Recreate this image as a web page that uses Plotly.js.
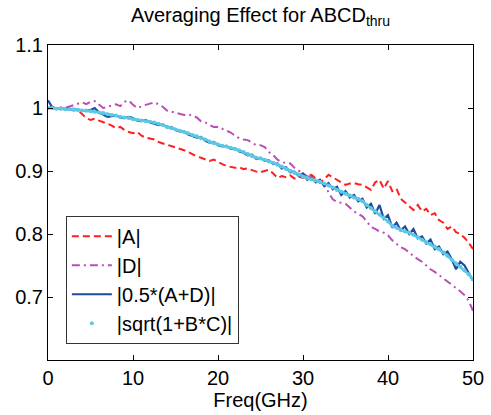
<!DOCTYPE html>
<html>
<head>
<meta charset="utf-8">
<script src="https://cdn.plot.ly/plotly-3.0.1.min.js"></script>
<style>html,body{margin:0;padding:0;background:#fff;}#chart{width:491px;height:415px;}</style>
</head>
<body>
<div id="chart"></div>
<script>
// Frequency grid (GHz)
const freq = [0,0.5,1,1.5,2,2.5,3,3.5,4,4.5,5,5.5,6,6.5,7,7.5,8,8.5,9,9.5,
  10,10.5,11,11.5,12,12.5,13,13.5,14,14.5,15,15.5,16,16.5,17,17.5,18,18.5,19,19.5,
  20,20.5,21,21.5,22,22.5,23,23.5,24,24.5,25,25.5,26,26.5,27,27.5,28,28.5,29,29.5,
  30,30.5,31,31.5,32,32.5,33,33.5,34,34.5,35,35.5,36,36.5,37,37.5,38,38.5,39,39.5,
  40,40.5,41,41.5,42,42.5,43,43.5,44,44.5,45,45.5,46,46.5,47,47.5,48,48.5,49,49.5,50];

// |A|
const magA = [1.000,1.001,0.999,0.998,0.999,0.997,0.996,0.997,0.990,0.984,
  0.981,0.983,0.980,0.978,0.975,0.972,0.968,0.970,0.965,0.962,
  0.960,0.962,0.956,0.953,0.952,0.950,0.946,0.944,0.941,0.939,
  0.937,0.935,0.933,0.930,0.926,0.923,0.921,0.918,0.916,0.918,
  0.914,0.911,0.908,0.907,0.905,0.906,0.903,0.904,0.901,0.899,
  0.898,0.900,0.902,0.896,0.889,0.892,0.890,0.893,0.888,0.891,
  0.889,0.892,0.894,0.888,0.881,0.887,0.894,0.890,0.886,0.882,
  0.878,0.880,0.881,0.879,0.878,0.874,0.870,0.882,0.886,0.872,
  0.884,0.868,0.872,0.856,0.850,0.845,0.838,0.846,0.836,0.840,
  0.830,0.833,0.822,0.818,0.808,0.812,0.803,0.800,0.794,0.786,0.776];

// |D|
const magD = [1.000,1.001,1.000,1.001,1.000,1.002,1.004,1.007,1.009,1.006,
  1.010,1.011,1.006,1.000,1.002,1.004,1.006,1.003,1.010,1.012,
  1.005,1.000,1.003,1.005,1.007,1.009,1.006,1.002,0.996,0.994,
  0.992,0.990,0.989,0.990,0.988,0.985,0.979,0.977,0.973,0.970,
  0.970,0.967,0.965,0.961,0.956,0.952,0.950,0.949,0.945,0.941,
  0.941,0.938,0.930,0.925,0.918,0.914,0.913,0.912,0.905,0.900,
  0.896,0.892,0.889,0.886,0.883,0.878,0.866,0.855,0.851,0.850,
  0.848,0.842,0.836,0.832,0.828,0.820,0.811,0.808,0.804,0.802,
  0.798,0.790,0.785,0.779,0.776,0.770,0.765,0.760,0.756,0.750,
  0.744,0.740,0.735,0.730,0.725,0.720,0.715,0.709,0.703,0.694,0.678];

// |0.5*(A+D)|
const magAvg = [1.012,1.001,0.999,1.000,0.998,0.999,0.997,0.998,0.996,0.995,
  0.997,1.000,0.993,0.989,0.986,0.987,0.988,0.985,0.984,0.986,
  0.984,0.980,0.979,0.981,0.977,0.975,0.973,0.974,0.969,0.970,
  0.965,0.963,0.963,0.958,0.956,0.953,0.954,0.948,0.945,0.946,
  0.941,0.939,0.940,0.935,0.936,0.931,0.929,0.925,0.926,0.919,
  0.921,0.916,0.917,0.911,0.912,0.904,0.906,0.898,0.899,0.892,
  0.896,0.886,0.890,0.882,0.886,0.876,0.881,0.871,0.875,0.862,
  0.868,0.858,0.862,0.852,0.856,0.842,0.848,0.832,0.846,0.824,
  0.830,0.810,0.818,0.806,0.812,0.800,0.808,0.793,0.796,0.785,
  0.791,0.776,0.780,0.768,0.772,0.760,0.744,0.756,0.750,0.738,0.726];

// |sqrt(1+B*C)|
const magSqrt = [1.000,1.000,0.999,0.999,0.998,0.998,0.998,0.997,0.996,0.996,
  0.995,0.994,0.993,0.992,0.990,0.989,0.988,0.986,0.985,0.984,
  0.982,0.981,0.980,0.979,0.978,0.977,0.975,0.973,0.970,0.968,
  0.966,0.964,0.962,0.960,0.957,0.955,0.952,0.950,0.947,0.944,
  0.942,0.940,0.939,0.937,0.935,0.933,0.930,0.927,0.924,0.921,
  0.920,0.918,0.915,0.913,0.910,0.907,0.903,0.900,0.897,0.894,
  0.891,0.889,0.887,0.885,0.883,0.880,0.877,0.874,0.870,0.867,
  0.864,0.861,0.858,0.856,0.852,0.846,0.841,0.836,0.831,0.826,
  0.820,0.813,0.810,0.806,0.804,0.802,0.799,0.795,0.791,0.787,
  0.784,0.780,0.776,0.771,0.765,0.759,0.753,0.748,0.742,0.736,0.728];

const seriesNames = ['|A|','|D|','|0.5*(A+D)|','|sqrt(1+B*C)|'];
const yTickVals = [0.7,0.8,0.9,1,1.1];
const yTickText = ['0.7','0.8','0.9','1','1.1'];
const xTickVals = [0,10,20,30,40,50];

const FONT = 'Liberation Sans, Arial, Helvetica, sans-serif';

const traces = [
  {x: freq, y: magA, name: seriesNames[0], mode: 'lines', type: 'scatter',
   line: {color: '#ff1f1f', width: 2, dash: '7px,4px'}},
  {x: freq, y: magD, name: seriesNames[1], mode: 'lines', type: 'scatter',
   line: {color: '#bb4db8', width: 2, dash: '8px,4px,2px,4px'}},
  {x: freq, y: magAvg, name: seriesNames[2], mode: 'lines', type: 'scatter',
   line: {color: '#1f4aa0', width: 2.2}},
  {x: freq, y: magSqrt, name: seriesNames[3], mode: 'lines', type: 'scatter',
   showlegend: false, hoverinfo: 'skip',
   line: {color: '#5cc8e4', width: 2.6}},
  {x: freq, y: magSqrt, name: seriesNames[3], mode: 'markers', type: 'scatter',
   marker: {color: '#5cc8e4', size: 4, symbol: 'circle'}}
];

const axisCommon = {
  showline: true, linecolor: '#000', linewidth: 1, mirror: 'ticks',
  ticks: 'inside', ticklen: 5, tickcolor: '#000', tickwidth: 1,
  showgrid: false, zeroline: false,
  tickfont: {family: FONT, size: 20, color: '#000'}
};

const layout = {
  width: 491, height: 415,
  margin: {l: 48, r: 18, t: 45, b: 55},
  paper_bgcolor: '#fff', plot_bgcolor: '#fff',
  font: {family: FONT, color: '#000'},
  title: {text: 'Averaging Effect for ABCD<sub>thru</sub>',
          font: {family: FONT, size: 20, color: '#000'},
          x: 0.5, xref: 'paper', xanchor: 'center',
          y: 0.965, yref: 'container', yanchor: 'middle'},
  xaxis: Object.assign({}, axisCommon, {
    range: [0, 50], tickvals: xTickVals,
    title: {text: 'Freq(GHz)', font: {family: FONT, size: 20, color: '#000'}, standoff: 0}
  }),
  yaxis: Object.assign({}, axisCommon, {
    range: [0.6, 1.1], tickvals: yTickVals, ticktext: yTickText
  }),
  showlegend: true,
  legend: {x: 0.042, y: 0.458, xanchor: 'left', yanchor: 'top',
           bgcolor: '#fff', bordercolor: '#333', borderwidth: 1,
           font: {family: FONT, size: 20, color: '#000'},
           itemwidth: 40, tracegroupgap: 0}
};

Plotly.newPlot('chart', traces, layout, {displayModeBar: false, staticPlot: true});
</script>
</body>
</html>
